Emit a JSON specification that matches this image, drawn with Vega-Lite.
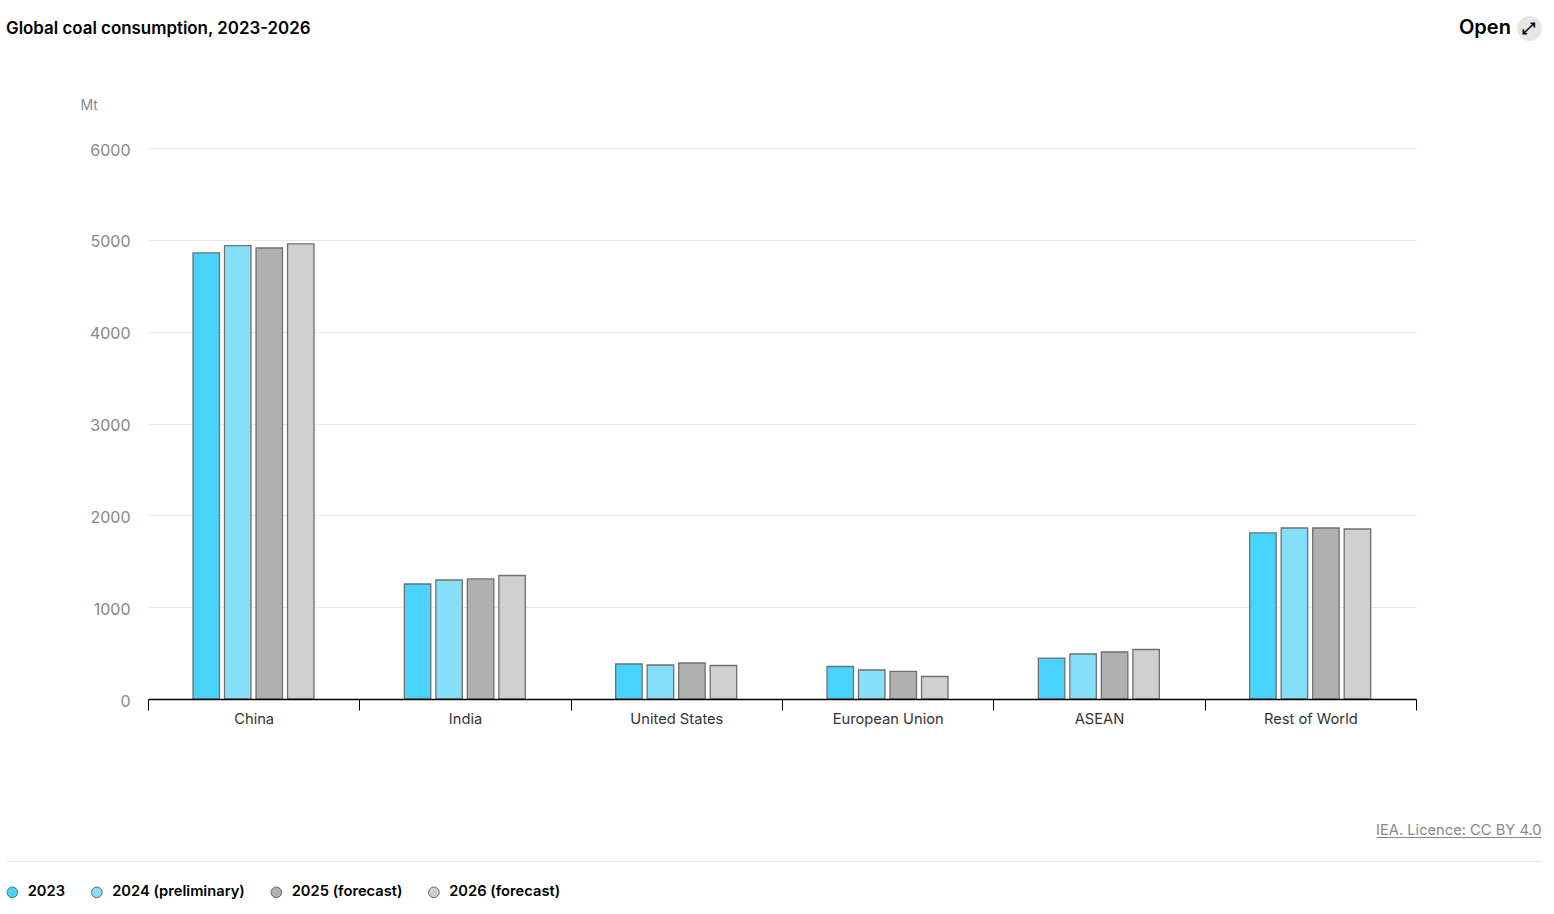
{
  "$schema": "https://vega.github.io/schema/vega-lite/v6.json",
  "width": 1268,
  "height": 551,
  "autosize": {"type": "none"},
  "padding": {"left": 148, "top": 148, "right": 138, "bottom": 215},
  "background": "white",
  "title": {
    "text": "Global coal consumption, 2023-2026",
    "font": "Inter",
    "fontSize": 16.9,
    "fontWeight": 600,
    "color": "#000000",
    "anchor": "start",
    "frame": "group",
    "dx": -142,
    "offset": -22
  },
  "layer": [
    {
      "data": {
        "values": [
          {"Region": "China", "Series": "2023", "Mt": 4857},
          {"Region": "China", "Series": "2024 (preliminary)", "Mt": 4938},
          {"Region": "China", "Series": "2025 (forecast)", "Mt": 4911},
          {"Region": "China", "Series": "2026 (forecast)", "Mt": 4955},
          {"Region": "India", "Series": "2023", "Mt": 1252},
          {"Region": "India", "Series": "2024 (preliminary)", "Mt": 1296},
          {"Region": "India", "Series": "2025 (forecast)", "Mt": 1307},
          {"Region": "India", "Series": "2026 (forecast)", "Mt": 1345},
          {"Region": "United States", "Series": "2023", "Mt": 381},
          {"Region": "United States", "Series": "2024 (preliminary)", "Mt": 370},
          {"Region": "United States", "Series": "2025 (forecast)", "Mt": 392},
          {"Region": "United States", "Series": "2026 (forecast)", "Mt": 365},
          {"Region": "European Union", "Series": "2023", "Mt": 354},
          {"Region": "European Union", "Series": "2024 (preliminary)", "Mt": 316},
          {"Region": "European Union", "Series": "2025 (forecast)", "Mt": 300},
          {"Region": "European Union", "Series": "2026 (forecast)", "Mt": 245},
          {"Region": "ASEAN", "Series": "2023", "Mt": 446},
          {"Region": "ASEAN", "Series": "2024 (preliminary)", "Mt": 490},
          {"Region": "ASEAN", "Series": "2025 (forecast)", "Mt": 512},
          {"Region": "ASEAN", "Series": "2026 (forecast)", "Mt": 539},
          {"Region": "Rest of World", "Series": "2023", "Mt": 1808},
          {"Region": "Rest of World", "Series": "2024 (preliminary)", "Mt": 1862},
          {"Region": "Rest of World", "Series": "2025 (forecast)", "Mt": 1862},
          {"Region": "Rest of World", "Series": "2026 (forecast)", "Mt": 1851}
        ]
      },
      "mark": {"type": "bar", "stroke": "#707070", "strokeWidth": 1.3},
      "encoding": {
        "x": {
          "field": "Region",
          "type": "nominal",
          "sort": null,
          "scale": {"paddingInner": 0, "paddingOuter": 0},
          "axis": {
            "title": "IEA. Licence: CC BY 4.0",
            "titleFont": "Inter",
            "titleFontSize": 14.7,
            "titleFontWeight": 400,
            "titleColor": "#888888",
            "titleAlign": "right",
            "titleAnchor": "end",
            "titleX": 1393,
            "titleY": 123,
            "labelAngle": 0,
            "labelFont": "Inter",
            "labelFontSize": 14.7,
            "labelColor": "#333333",
            "labelPadding": 1,
            "domainColor": "#000000",
            "domainWidth": 1.5,
            "tickColor": "#000000",
            "tickWidth": 1,
            "tickSize": 11,
            "tickBand": "extent",
            "zindex": 1
          }
        },
        "xOffset": {
          "field": "Series",
          "type": "nominal",
          "sort": null,
          "scale": {"range": [45, 166], "paddingInner": 0.16, "paddingOuter": 0}
        },
        "y": {
          "field": "Mt",
          "type": "quantitative",
          "scale": {"domain": [0, 6000]},
          "axis": {
            "title": "Mt",
            "titleFont": "Inter",
            "titleFontSize": 14,
            "titleFontWeight": 400,
            "titleColor": "#888888",
            "titleAngle": 0,
            "titleAlign": "left",
            "titleX": -68,
            "titleY": -36,
            "values": [0, 1000, 2000, 3000, 4000, 5000, 6000],
            "format": "d",
            "labelFont": "Inter",
            "labelFontSize": 16,
            "labelColor": "#888888",
            "labelPadding": 18,
            "labelOffset": 2,
            "domain": false,
            "ticks": false,
            "grid": true,
            "gridColor": "#e8e8e8"
          }
        },
        "color": {
          "field": "Series",
          "type": "nominal",
          "scale": {
            "domain": ["2023", "2024 (preliminary)", "2025 (forecast)", "2026 (forecast)"],
            "range": ["#48d3ff", "#85dff9", "#b0b0b0", "#d0d0d0"]
          },
          "legend": {
            "title": null,
            "orient": "none",
            "direction": "horizontal",
            "columns": 4,
            "gridAlign": "none",
            "legendX": -143,
            "legendY": 737,
            "symbolType": "circle",
            "symbolSize": 113,
            "symbolStrokeColor": "#666666",
            "symbolStrokeWidth": 1,
            "labelFont": "Inter",
            "labelFontSize": 14.7,
            "labelFontWeight": 600,
            "labelColor": "#000000",
            "labelOffset": 8,
            "columnPadding": 23.5
          }
        }
      }
    },
    {
      "data": {"values": [{"badge": "⤢", "base": 0}]},
      "mark": {"type": "point", "size": 0, "filled": true, "fill": "#e6e6e6"},
      "encoding": {
        "y": {
          "field": "base",
          "type": "quantitative",
          "axis": {
            "orient": "left",
            "offset": -1394,
            "title": null,
            "values": [0],
            "labels": false,
            "domain": false,
            "grid": false,
            "tickColor": "#e6e6e6",
            "tickWidth": 1,
            "tickSize": 1536,
            "tickOffset": 162
          }
        },
        "shape": {
          "field": "badge",
          "type": "nominal",
          "scale": {"range": ["circle"]},
          "legend": {
            "title": "Open",
            "titleFont": "Inter",
            "titleFontSize": 20,
            "titleFontWeight": 600,
            "titleColor": "#000000",
            "titleOrient": "left",
            "titlePadding": 6,
            "orient": "none",
            "legendX": 1311,
            "legendY": -132,
            "symbolSize": 620,
            "symbolFillColor": "#e6e6e6",
            "symbolOpacity": 1,
            "symbolStrokeWidth": 0,
            "labelFont": "DejaVu Sans",
            "labelFontSize": 16,
            "labelFontWeight": 600,
            "labelColor": "#000000",
            "labelOffset": -20
          }
        }
      }
    },
    {
      "data": {"values": [{"base": 0}]},
      "mark": {"type": "point", "size": 0},
      "encoding": {
        "y": {
          "field": "base",
          "type": "quantitative",
          "axis": {
            "orient": "left",
            "offset": -1393,
            "title": null,
            "values": [0],
            "labels": false,
            "domain": false,
            "grid": false,
            "tickColor": "#888888",
            "tickWidth": 1,
            "tickSize": 165,
            "tickOffset": 138
          }
        }
      }
    }
  ],
  "resolve": {"axis": {"y": "independent"}, "scale": {"y": "shared"}},
  "config": {"view": {"stroke": null}}
}
